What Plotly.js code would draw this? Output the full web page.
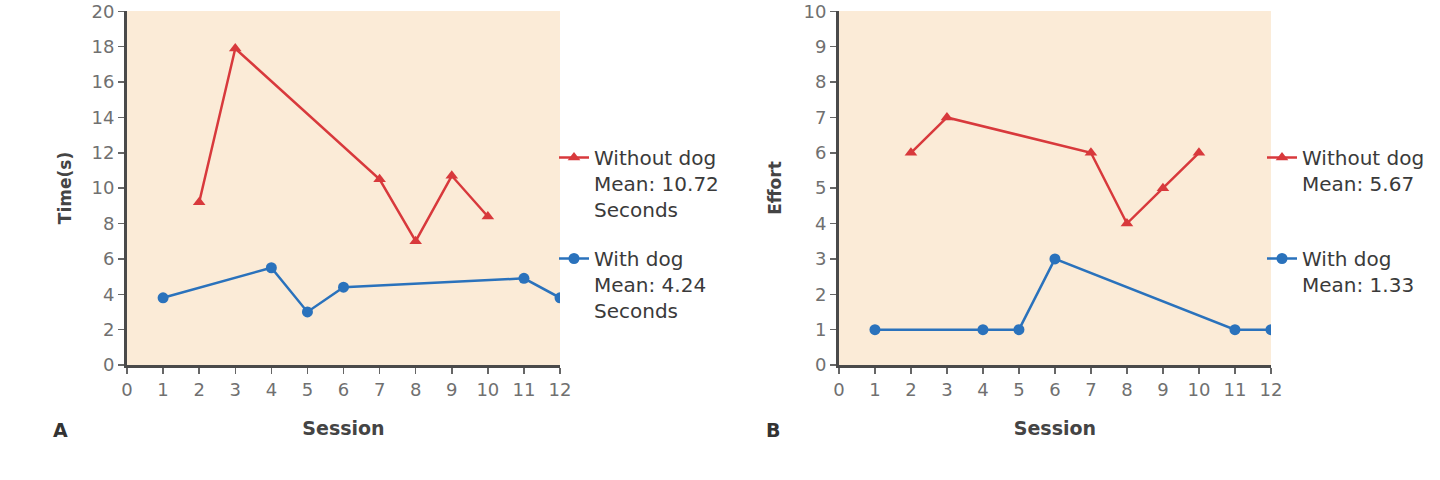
<!DOCTYPE html>
<html>
<head>
<meta charset="utf-8">
<script src="https://cdn.plot.ly/plotly-3.0.1.min.js"></script>
<style>html,body{margin:0;padding:0;background:#fff;}#chart{width:1440px;height:480px;}</style>
</head>
<body>
<div id="chart"></div>
<script>
// Panel A: time (s)
const withoutSessions = [2, 3, 7, 8, 9, 10];
const withSessions = [1, 4, 5, 6, 11, 12];
const timeWithout = [9.2, 17.9, 10.5, 7.0, 10.7, 8.4];
const timeWith = [3.8, 5.5, 3.0, 4.4, 4.9, 3.8];
// Panel B: effort
const effortWithout = [6, 7, 6, 4, 5, 6];
const effortWith = [1, 1, 1, 3, 1, 1];
const sessionTicks = [0,1,2,3,4,5,6,7,8,9,10,11,12];
const timeTicks = [0,2,4,6,8,10,12,14,16,18,20];
const effortTicks = [0,1,2,3,4,5,6,7,8,9,10];
const namesA = ["Without dog<br>Mean: 10.72<br>Seconds", "With dog<br>Mean: 4.24<br>Seconds"];
const namesB = ["Without dog<br>Mean: 5.67", "With dog<br>Mean: 1.33"];

const RED = '#d8393c', BLUE = '#2a72bc';
const FONT = 'DejaVu Sans, Liberation Sans, Arial, sans-serif';

const traces = [
  {x: withoutSessions, y: timeWithout, name: namesA[0], legendgroup: 'a1', mode: 'lines+markers', xaxis: 'x', yaxis: 'y', legend: 'legend',
   line: {color: RED, width: 2.5}, marker: {symbol: 'triangle-up', size: 11, color: RED}},
  {x: withSessions, y: timeWith, name: namesA[1], legendgroup: 'a2', mode: 'lines+markers', xaxis: 'x', yaxis: 'y', legend: 'legend',
   line: {color: BLUE, width: 2.5}, marker: {symbol: 'circle', size: 11, color: BLUE}},
  {x: withoutSessions, y: effortWithout, name: namesB[0], legendgroup: 'b1', mode: 'lines+markers', xaxis: 'x2', yaxis: 'y2', legend: 'legend2',
   line: {color: RED, width: 2.5}, marker: {symbol: 'triangle-up', size: 11, color: RED}},
  {x: withSessions, y: effortWith, name: namesB[1], legendgroup: 'b2', mode: 'lines+markers', xaxis: 'x2', yaxis: 'y2', legend: 'legend2',
   line: {color: BLUE, width: 2.5}, marker: {symbol: 'circle', size: 11, color: BLUE}}
];

function xax(domain) {
  return {domain: domain, range: [0, 12], tickvals: sessionTicks, ticktext: sessionTicks.map(String),
    showgrid: false, zeroline: false, showline: true, linecolor: '#4a4a4a', linewidth: 3,
    ticks: 'outside', ticklen: 6, tickwidth: 1.5, tickcolor: '#666',
    tickfont: {family: FONT, size: 18, color: '#707070'},
    title: {text: 'Session', font: {family: FONT, size: 19, color: '#444', weight: 'bold'}, standoff: 24},
    fixedrange: true};
}
function yax(range, ticks, title, anchor, standoff) {
  return {domain: [0.2396, 0.9771], range: range, tickvals: ticks, ticktext: ticks.map(String),
    anchor: anchor, showgrid: false, zeroline: false, showline: true, linecolor: '#4a4a4a', linewidth: 3,
    ticks: 'outside', ticklen: 6, tickwidth: 1.5, tickcolor: '#666',
    tickfont: {family: FONT, size: 18, color: '#707070'},
    ticklabeloverflow: 'allow',
    title: {text: title, font: {family: FONT, size: 17, color: '#444', weight: 'bold'}, standoff: standoff},
    fixedrange: true};
}

const layout = {
  width: 1440, height: 480,
  margin: {l: 0, r: 0, t: 0, b: 0},
  paper_bgcolor: '#ffffff', plot_bgcolor: '#fbebd7',
  font: {family: FONT},
  xaxis: Object.assign(xax([0.0882, 0.3889]), {anchor: 'y'}),
  yaxis: yax([0, 20.02], timeTicks, 'Time(s)', 'x', 16),
  xaxis2: Object.assign(xax([0.5826, 0.8826]), {anchor: 'y2'}),
  yaxis2: yax([0, 10.01], effortTicks, 'Effort', 'x2', 18),
  showlegend: true,
  legend: {x: 554/1440, xanchor: 'left', y: 1 - 138/480, yanchor: 'top', bgcolor: 'rgba(0,0,0,0)',
    font: {family: FONT, size: 20, color: '#3a3a3a'}, valign: 'top', itemwidth: 30,
    traceorder: 'grouped', tracegroupgap: 20},
  legend2: {x: 1262/1440, xanchor: 'left', y: 1 - 138/480, yanchor: 'top', bgcolor: 'rgba(0,0,0,0)',
    font: {family: FONT, size: 20, color: '#3a3a3a'}, valign: 'top', itemwidth: 30,
    traceorder: 'grouped', tracegroupgap: 46},
  annotations: [
    {text: '<b>A</b>', xref: 'paper', yref: 'paper', x: 60/1440, y: 1 - 430/480, xanchor: 'center', yanchor: 'middle',
     showarrow: false, font: {family: FONT, size: 19, color: '#333'}},
    {text: '<b>B</b>', xref: 'paper', yref: 'paper', x: 773/1440, y: 1 - 430/480, xanchor: 'center', yanchor: 'middle',
     showarrow: false, font: {family: FONT, size: 19, color: '#333'}}
  ]
};

Plotly.newPlot('chart', traces, layout, {displayModeBar: false, staticPlot: true});
</script>
</body>
</html>
